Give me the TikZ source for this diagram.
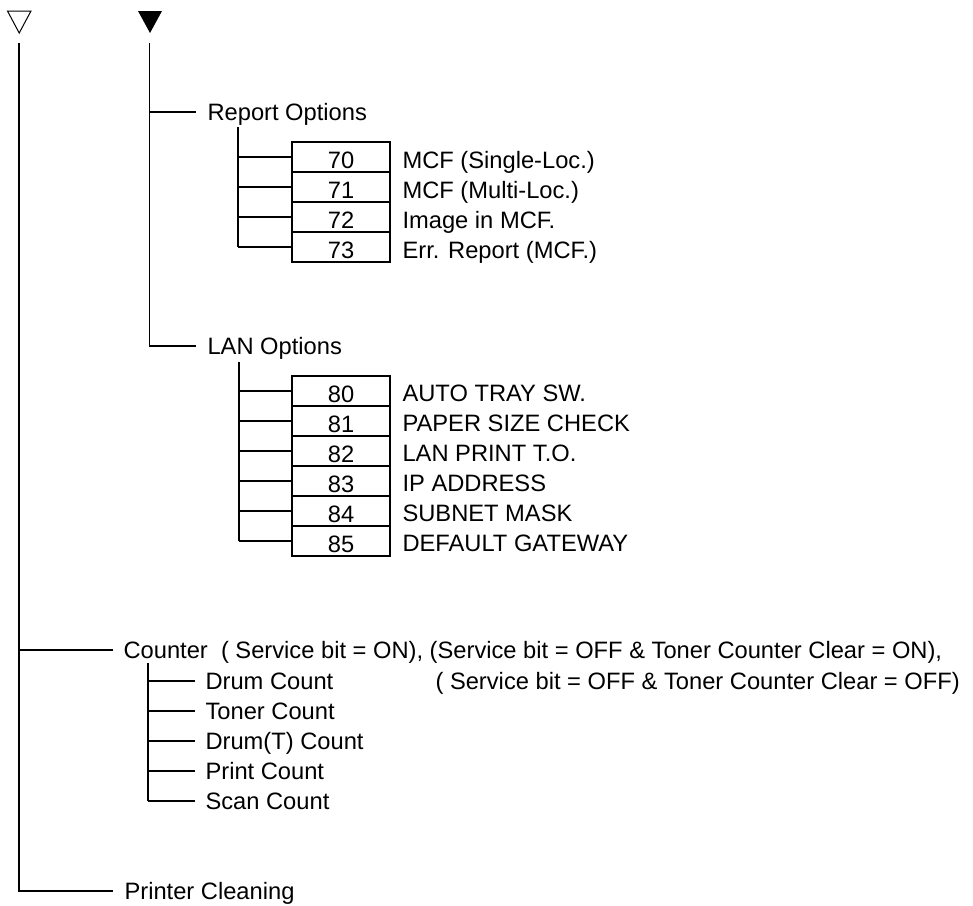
\documentclass[tikz,border=0pt]{standalone}
\usepackage{fontspec}
\setmainfont{Liberation Sans}
\begin{document}
\begin{tikzpicture}[x=1pt,y=-1pt,line width=1.1pt,
  lbl/.style={anchor=base west,inner sep=0pt,font=\fontsize{23.7}{28}\selectfont},
  numbox/.style={draw,rectangle,minimum width=98pt,minimum height=30pt,inner sep=0pt,
    text height=22pt,text depth=0pt,font=\fontsize{23.7}{28}\selectfont}]
\useasboundingbox (0,0) rectangle (973,905);

% triangles
\draw[line width=1pt] (7.5,11) -- (31,11) -- (19.2,33) -- cycle;
\fill (138,11) -- (162,11) -- (150,33) -- cycle;
\coordinate (A) at (19,43);
\coordinate (B) at (149.5,43);

% Report Options
\node[lbl] (rep) at (207,120) {Report Options};
\coordinate (repj) at (149.5,112);
\coordinate (repe) at (196,112);
\draw (repj) -- (repe);
\coordinate (rs) at (238,127);
\foreach \i/\n/\t in {0/70/{MCF (Single-Loc.)},1/71/{MCF (Multi-Loc.)},2/72/{Image in MCF.},3/73/{Err. Report (MCF.)}}{
  \node[numbox] (b\n) at (341,{157+30*\i}) {\n};
  \node[lbl] (l\n) at (402,{168+30*\i}) {\t};
  \draw (rs |- b\n.west) -- (b\n.west);
}
\draw (rs) -- (rs |- b73.west);

% LAN Options
\coordinate (lane) at (196,346);
\draw (B) |- (lane);
\node[lbl] (lan) at (207,354) {LAN Options};
\coordinate (ls) at (239,362);
\foreach \i/\n/\t in {0/80/{AUTO TRAY SW.},1/81/{PAPER SIZE CHECK},2/82/{LAN PRINT T.O.},3/83/{IP ADDRESS},4/84/{SUBNET MASK},5/85/{DEFAULT GATEWAY}}{
  \node[numbox] (b\n) at (341,{391+30*\i}) {\n};
  \node[lbl] (l\n) at (402,{401+30*\i}) {\t};
  \draw (ls |- b\n.west) -- (b\n.west);
}
\draw (ls) -- (ls |- b85.west);

% Counter
\coordinate (cj) at (19,650);
\coordinate (ce) at (113,650);
\draw (cj) -- (ce);
\node[lbl] (cnt) at (123,658) {Counter\ \ ( Service bit = ON), (Service bit = OFF \& Toner Counter Clear = ON),};
\node[lbl] (cnt2) at (435,689) {( Service bit = OFF \& Toner Counter Clear = OFF)};
\coordinate (cs) at (148,663);
\foreach \i/\t in {0/{Drum Count},1/{Toner Count},2/{Drum(T) Count},3/{Print Count},4/{Scan Count}}{
  \coordinate (ce\i) at (195,{681+30*\i});
  \node[lbl] (c\i) at (205,{689+30*\i}) {\t};
  \draw (cs |- ce\i) -- (ce\i);
}
\draw (cs) -- (cs |- ce4);

% Printer Cleaning
\coordinate (pe) at (113,891);
\draw (A) |- (pe);
\node[lbl] (pc) at (124,899) {Printer Cleaning};
\end{tikzpicture}
\end{document}
